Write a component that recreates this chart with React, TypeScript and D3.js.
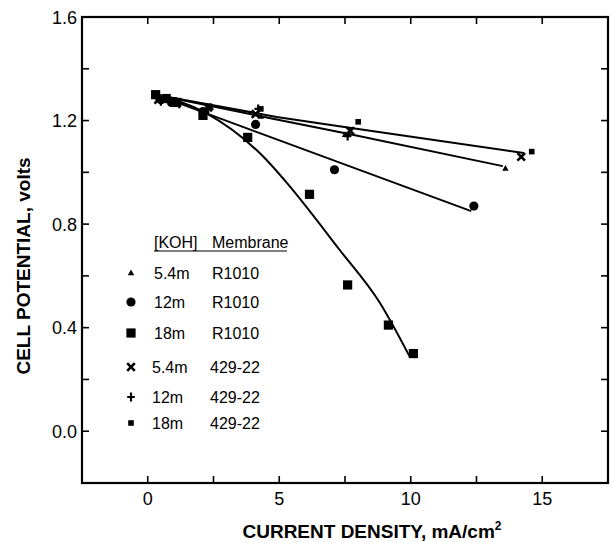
import React from 'react';
import * as d3 from 'd3';

// [KOH] / membrane series (current density mA/cm2, volts)
const r1010_54 = [[0.4, 1.285], [1.2, 1.27], [2.4, 1.25], [4.3, 1.215], [7.5, 1.145], [13.6, 1.015]];
const r1010_12 = [[0.5, 1.28], [0.9, 1.27], [2.1, 1.235], [4.1, 1.185], [7.1, 1.01], [12.4, 0.87]];
const r1010_18 = [[0.3, 1.30], [0.7, 1.285], [1.1, 1.27], [2.1, 1.22], [3.8, 1.135], [6.15, 0.915], [7.6, 0.565], [9.15, 0.41], [10.1, 0.30]];
const m429_54 = [[0.4, 1.28], [1.0, 1.27], [2.3, 1.25], [4.1, 1.225], [7.7, 1.16], [14.2, 1.06]];
const m429_12 = [[0.5, 1.275], [1.2, 1.265], [2.3, 1.245], [4.2, 1.245], [7.6, 1.14]];
const m429_18 = [[0.4, 1.29], [1.0, 1.28], [2.3, 1.255], [4.3, 1.245], [8.0, 1.195], [14.6, 1.08]];

// hand-drawn fit lines
const fit429 = [[0.3, 1.30], [4.9, 1.214], [7.8, 1.17], [14.3, 1.075]];
const fitR54 = [[0.3, 1.30], [4.9, 1.204], [7.7, 1.147], [13.5, 1.024]];
const fitR12 = [[0.3, 1.30], [12.3, 0.85]];
const fitR18 = [[0.3, 1.30], [2.2, 1.23], [4.4, 1.06], [5.2, 0.97], [7.3, 0.70], [8.8, 0.50], [9.95, 0.29]];

const xLabels = [0, 5, 10, 15];
const yLabels = [0.0, 0.4, 0.8, 1.2, 1.6];
const legendConc = ['5.4m', '12m', '18m', '5.4m', '12m', '18m'];
const legendMembrane = ['R1010', 'R1010', 'R1010', '429-22', '429-22', '429-22'];
const legendSymbols = ['triangle', 'circle', 'square', 'cross', 'plus', 'smallsquare'];

const width = 614, height = 543;
const margin = { top: 17, right: 6, bottom: 60, left: 82 };
const font = "'Liberation Sans', Arial, Helvetica, sans-serif";

function Marker({ kind, x, y }: { kind: string; x: number; y: number }) {
  switch (kind) {
    case 'triangle':
      return <path d={`M${x},${y - 3.5}L${x + 3.2},${y + 2.2}L${x - 3.2},${y + 2.2}Z`} fill="#000" />;
    case 'circle':
      return <circle cx={x} cy={y} r={4.6} fill="#000" />;
    case 'square':
      return <rect x={x - 4.6} y={y - 4.6} width={9.2} height={9.2} fill="#000" />;
    case 'cross':
      return <path d={`M${x - 3.8},${y - 3.8}L${x + 3.8},${y + 3.8}M${x + 3.8},${y - 3.8}L${x - 3.8},${y + 3.8}`} stroke="#000" strokeWidth={2.6} />;
    case 'plus':
      return <path d={`M${x - 3.8},${y}L${x + 3.8},${y}M${x},${y - 4.5}L${x},${y + 4.5}`} stroke="#000" strokeWidth={2.2} />;
    default:
      return <rect x={x - 2.8} y={y - 2.8} width={5.6} height={5.6} fill="#000" />;
  }
}

export default function App() {
  const x = d3.scaleLinear().domain([-2.5, 17.5]).range([margin.left, width - margin.right]);
  const y = d3.scaleLinear().domain([-0.2, 1.6]).range([height - margin.bottom, margin.top]);

  const lineLin = d3.line<number[]>().x(d => x(d[0])).y(d => y(d[1]));
  const lineCurve = d3.line<number[]>().x(d => x(d[0])).y(d => y(d[1])).curve(d3.curveMonotoneX);

  const xMinor = d3.range(0, 17.5, 2.5);
  const yMinor = d3.range(0, 1.61, 0.2);
  const [x0, x1] = x.range();
  const [y0, y1] = y.range();
  const tk = 7;

  const series = [
    { kind: 'triangle', data: r1010_54 },
    { kind: 'circle', data: r1010_12 },
    { kind: 'square', data: r1010_18 },
    { kind: 'cross', data: m429_54 },
    { kind: 'plus', data: m429_12 },
    { kind: 'smallsquare', data: m429_18 },
  ];

  return (
    <svg width={width} height={height} style={{ display: 'block', position: 'absolute', left: 0, top: 0, background: '#fff' }}>
      <rect x={0} y={0} width={width} height={height} fill="#fff" />
      {/* frame */}
      <rect x={x0} y={y1} width={x1 - x0} height={y0 - y1} fill="none" stroke="#000" strokeWidth={2.2} />
      {xMinor.map(v => (
        <g key={'xt' + v}>
          <line x1={x(v)} x2={x(v)} y1={y0} y2={y0 - tk} stroke="#000" strokeWidth={1.6} />
          <line x1={x(v)} x2={x(v)} y1={y1} y2={y1 + tk} stroke="#000" strokeWidth={1.6} />
        </g>
      ))}
      {yMinor.map(v => (
        <g key={'yt' + v}>
          <line x1={x0} x2={x0 + tk} y1={y(v)} y2={y(v)} stroke="#000" strokeWidth={1.6} />
          <line x1={x1} x2={x1 - tk} y1={y(v)} y2={y(v)} stroke="#000" strokeWidth={1.6} />
        </g>
      ))}
      {xLabels.map(v => (
        <text key={'xl' + v} x={x(v)} y={y0 + 22} textAnchor="middle" fontFamily={font} fontSize={18}>{v}</text>
      ))}
      {yLabels.map(v => (
        <text key={'yl' + v} x={x0 - 5} y={y(v) + 6.5} textAnchor="end" fontFamily={font} fontSize={18}>{v.toFixed(1)}</text>
      ))}
      <text x={372} y={538} textAnchor="middle" fontFamily={font} fontSize={19} fontWeight="bold">
        CURRENT DENSITY, mA/cm<tspan dy={-8} fontSize={12}>2</tspan>
      </text>
      <text transform={`translate(30,266) rotate(-90)`} textAnchor="middle" fontFamily={font} fontSize={19} fontWeight="bold">
        CELL POTENTIAL, volts
      </text>

      {/* fit lines */}
      <path d={lineLin(fit429) || ''} fill="none" stroke="#000" strokeWidth={2} />
      <path d={lineLin(fitR54) || ''} fill="none" stroke="#000" strokeWidth={2} />
      <path d={lineLin(fitR12) || ''} fill="none" stroke="#000" strokeWidth={2} />
      <path d={lineCurve(fitR18) || ''} fill="none" stroke="#000" strokeWidth={2} />

      {series.map(s => s.data.map((d, i) => (
        <Marker key={s.kind + i} kind={s.kind} x={x(d[0])} y={y(d[1])} />
      )))}

      {/* legend */}
      <g fontFamily={font} fontSize={16}>
        <text x={154} y={248}>[KOH]</text>
        <text x={212} y={248}>Membrane</text>
        <line x1={154} x2={287} y1={251} y2={251} stroke="#000" strokeWidth={1.2} />
        {legendConc.map((c, i) => {
          const ly = [273, 302, 333, 367, 397, 423][i];
          return (
            <g key={'lg' + i}>
              <Marker kind={legendSymbols[i]} x={131} y={ly} />
              <text x={154 - (i > 2 ? 2 : 0)} y={ly + 6}>{c}</text>
              <text x={212 - (i > 2 ? 2 : 0)} y={ly + 6}>{legendMembrane[i]}</text>
            </g>
          );
        })}
      </g>
    </svg>
  );
}
